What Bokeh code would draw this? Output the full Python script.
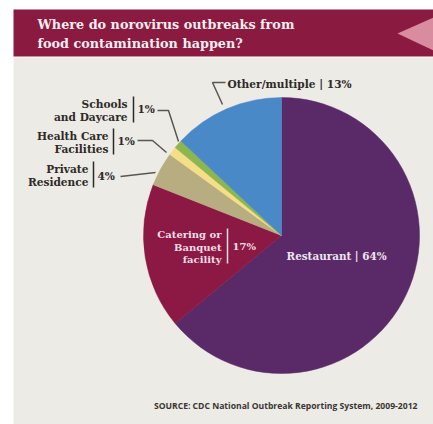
from bokeh.plotting import figure
from bokeh.models import Range1d
from bokeh.core.properties import value
from bokeh.embed import file_html
from bokeh.resources import INLINE
import math

# ---- data ----
categories = ["Restaurant", "Catering or Banquet facility", "Private Residence",
              "Health Care Facilities", "Schools and Daycare", "Other/multiple"]
percents = [64, 17, 4, 1, 1, 13]
slice_colors = ["#5a2a68", "#8c1844", "#b7ad80", "#f4df88", "#8db64f", "#4a89c8"]
title_lines = ["Where do norovirus outbreaks from", "food contamination happen?"]
source_text = "SOURCE: CDC National Outbreak Reporting System, 2009-2012"

W, H = 433, 424
p = figure(width=W, height=H, x_range=Range1d(0, W), y_range=Range1d(H, 0),
           x_axis_type=None, y_axis_type=None, toolbar_location=None,
           output_backend="svg", min_border=0)
p.outline_line_color = None
p.grid.visible = False
p.background_fill_color = "white"
p.border_fill_color = "white"

# background panel and banner
p.quad(left=[13], right=[W], top=[57], bottom=[H], fill_color="#ecebe5", line_color=None)
p.quad(left=[13], right=[W], top=[9], bottom=[56], fill_color="#8a1a3f", line_color=None)
p.patch([397, W, W], [33, 17, 50], fill_color="#d98ba0", line_color=None)

serif = value("DejaVu Serif")
p.text(x=[37, 37], y=[24, 43], text=title_lines, text_font=serif, text_font_style="bold",
       text_font_size="12.8px", text_color="#f6eef0", text_baseline="middle", text_align="left")

# pie
cx, cy, r = 281, 235, 138
total = sum(percents)
starts, ends = [], []
cum = 0.0
for v in percents:
    starts.append(math.pi / 2 - 2 * math.pi * cum / total)
    cum += v
    ends.append(math.pi / 2 - 2 * math.pi * cum / total)
p.wedge(x=[cx] * len(percents), y=[cy] * len(percents), radius=r,
        start_angle=starts, end_angle=ends, direction="clock",
        fill_color=slice_colors, line_color=slice_colors, line_width=0.5)

pct = [f"{v}%" for v in percents]
dark = "#2e2a28"
lead = "#5a5652"

# Restaurant label (inside)
p.text(x=[286], y=[255], text=[f"Restaurant | {pct[0]}"], text_font=serif, text_font_style="bold",
       text_font_size="10.4px", text_color="#ece4ef", text_baseline="middle", text_align="left")

# Catering label (inside)
p.text(x=[221, 221, 221], y=[234, 246.5, 259], text=["Catering or", "Banquet", "facility"],
       text_font=serif, text_font_style="bold", text_font_size="10px", text_color="#f2dfe6",
       text_baseline="middle", text_align="right")
p.segment(x0=[227], y0=[228], x1=[227], y1=[263], line_color="#f2dfe6", line_width=1.5)
p.text(x=[232], y=[246], text=[pct[1]], text_font=serif, text_font_style="bold",
       text_font_size="10px", text_color="#f2dfe6", text_baseline="middle", text_align="left")

# left side labels
left_names = [["Schools", "and Daycare"], ["Health Care", "Facilities"], ["Private", "Residence"]]
left_idx = [4, 3, 2]
name_right = [127, 108, 88]
line_ys = [(103, 116), (135, 148), (168, 181)]
bar_x = [133, 113, 93]
pct_x = [137, 117, 97]
pct_y = [108, 140, 175]
for names, idx, nr, ys, bx, px_, py in zip(left_names, left_idx, name_right, line_ys, bar_x, pct_x, pct_y):
    p.text(x=[nr, nr], y=list(ys), text=names, text_font=serif, text_font_style="bold",
           text_font_size="10.6px", text_color=dark, text_baseline="middle", text_align="right")
    p.segment(x0=[bx], y0=[ys[0] - 7], x1=[bx], y1=[ys[1] + 6], line_color=dark, line_width=1.5)
    p.text(x=[px_], y=[py], text=[pct[idx]], text_font=serif, text_font_style="bold",
           text_font_size="10.6px", text_color=dark, text_baseline="middle", text_align="left")

# leader lines
p.line([157, 168, 178], [110, 110, 141], line_color=lead, line_width=1.5)
p.line([137, 152, 166], [140, 140, 152], line_color=lead, line_width=1.5)
p.line([120, 155], [176, 172], line_color=lead, line_width=1.5)
p.line([225, 212, 222], [82, 82, 104], line_color=lead, line_width=1.5)

# other label
p.text(x=[227], y=[83], text=[f"Other/multiple | {pct[5]}"], text_font=serif, text_font_style="bold",
       text_font_size="10.6px", text_color=dark, text_baseline="middle", text_align="left")

# source
p.text(x=[417], y=[405], text=[source_text], text_font=value("Open Sans"), text_font_style="bold",
       text_font_size="8.6px", text_color="#3a3634", text_baseline="middle", text_align="right")

open("out.html", "w").write(file_html(p, INLINE))
